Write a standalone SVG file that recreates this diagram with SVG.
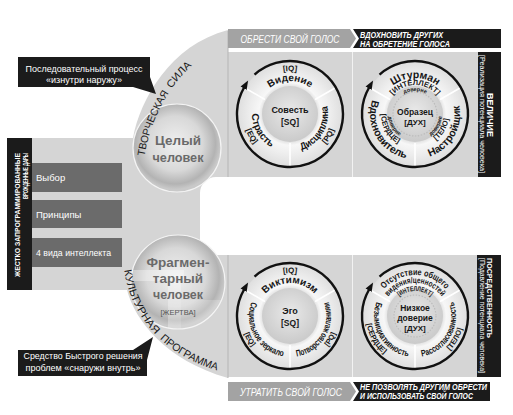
<svg xmlns="http://www.w3.org/2000/svg" width="513" height="415" viewBox="0 0 513 415">
<style>
text{font-family:'Liberation Sans Narrow','Liberation Sans',Arial,sans-serif}
.w{fill:#fff}
.k{fill:#161616}
.m{text-anchor:middle}
.sph{font-family:'Liberation Sans',Arial,sans-serif;font-weight:bold;fill:#6a6a6a;font-size:13.5px;text-anchor:middle}
.bi{font-style:italic;font-weight:bold;fill:#fff}
.lb{fill:#161616;text-anchor:middle;font-weight:bold}
.arc{font-size:10.5px;fill:#1a1a1a}
.box{fill:#6b6b6b}
.bar{fill:#1b1b1b}
.pan{fill:#d5d5d5}
</style>
<defs>
<radialGradient id="gBand" cx="50%" cy="50%" r="50%">
<stop offset="0.5" stop-color="#dadada"/>
<stop offset="0.6" stop-color="#f7f7f7"/>
<stop offset="0.78" stop-color="#ededed"/>
<stop offset="1" stop-color="#dfdfdf"/>
</radialGradient>
<radialGradient id="gCore" cx="50%" cy="45%" r="55%">
<stop offset="0" stop-color="#e9e9e9"/>
<stop offset="1" stop-color="#cacaca"/>
</radialGradient>
<radialGradient id="gSph" cx="48%" cy="45%" r="52%">
<stop offset="0" stop-color="#f0f0f0"/>
<stop offset="0.6" stop-color="#d8d8d8"/>
<stop offset="0.88" stop-color="#b3b3b3"/>
<stop offset="1" stop-color="#c9c9c9"/>
</radialGradient>
<clipPath id="cFrag"><circle cx="178" cy="282" r="47"/></clipPath>
<marker id="arr" markerWidth="10" markerHeight="10" refX="1" refY="5" orient="auto" markerUnits="userSpaceOnUse">
<path d="M0,1.5 L9,5 L0,8.5 Z" fill="#111"/>
</marker>
<g id="dial">
<circle r="52" fill="url(#gBand)"/>
<circle r="28" fill="url(#gCore)"/>
<g stroke="#fff" stroke-width="1.6">
<line x1="-25.1" y1="-14.5" x2="-45" y2="-26"/>
<line x1="25.1" y1="-14.5" x2="45" y2="-26"/>
<line x1="0" y1="29" x2="0" y2="52"/>
</g>
<path d="M-35.46,-39.38 A53 53 0 1 1 -45.9,-26.5" fill="none" stroke="#111" stroke-width="2.4" marker-end="url(#arr)"/>
</g>
<path id="t23" d="M-23,0 A23 23 0 0 1 23,0"/>
<path id="t25" d="M-25,0 A25 25 0 0 1 25,0"/>
<path id="t29" d="M-29,0 A29 29 0 0 1 29,0"/>
<path id="t33" d="M-33,0 A33 33 0 0 1 33,0"/>
<path id="t36" d="M-36,0 A36 36 0 0 1 36,0"/>
<path id="t41" d="M-41,0 A41 41 0 0 1 41,0"/>
<path id="t43" d="M-43,0 A43 43 0 0 1 43,0"/>
<path id="l27" d="M-17.36,-20.68 A27 27 0 0 0 9.23,25.37"/>
<path id="l34" d="M-21.86,-26.04 A34 34 0 0 0 11.63,31.95"/>
<path id="l38" d="M-24.43,-29.11 A38 38 0 0 0 13,35.71"/>
<path id="l41" d="M-26.35,-31.41 A41 41 0 0 0 14.02,38.53"/>
<path id="l45" d="M-28.93,-34.47 A45 45 0 0 0 15.39,42.29"/>
<path id="l47" d="M-30.21,-36 A47 47 0 0 0 16.07,44.17"/>
<path id="l49" d="M-31.5,-37.53 A49 49 0 0 0 16.76,46.05"/>
<path id="r27" d="M-9.23,25.37 A27 27 0 0 0 17.36,-20.68"/>
<path id="r34" d="M-11.63,31.95 A34 34 0 0 0 21.86,-26.04"/>
<path id="r38" d="M-13,35.71 A38 38 0 0 0 24.43,-29.11"/>
<path id="r41" d="M-14.02,38.53 A41 41 0 0 0 26.35,-31.41"/>
<path id="r45" d="M-15.39,42.29 A45 45 0 0 0 28.93,-34.47"/>
<path id="r47" d="M-16.07,44.17 A47 47 0 0 0 30.21,-36"/>
<path id="r49" d="M-16.76,46.05 A49 49 0 0 0 31.5,-37.53"/>
<path id="arcTop" d="M144,160 C150,115 178,62 228,44"/>
<path id="arcBot" d="M124,268 C130,318 166,358 226,373"/>
</defs>

<g id="frame">
<path d="M228,30 C170,45 140,100 133,138 H32 V290 H127 C135,320 165,360 228,378 Z" fill="#d5d5d5"/>
<rect class="pan" x="228" y="52" width="250" height="125"/>
<rect class="pan" x="228" y="255" width="250" height="122"/>
<path d="M216,177 H513 V255 H216 A16 16 0 0 1 200,239 V193 A16 16 0 0 1 216,177 Z" fill="#fff"/>
<g stroke-width="1">
<line x1="228" y1="31" x2="228" y2="177" stroke="#b5b5b5"/>
<line x1="228" y1="255" x2="228" y2="378" stroke="#b5b5b5"/>
<line x1="352.5" y1="52" x2="352.5" y2="177" stroke="#f2f2f2"/>
<line x1="352.5" y1="255" x2="352.5" y2="377" stroke="#f2f2f2"/>
</g>
</g>

<g id="gifts">
<rect class="bar" x="7" y="138" width="25" height="152"/>
<text class="w" font-size="7.5" font-weight="bold" text-anchor="end" transform="translate(19.5,153) rotate(-90)" textLength="124" lengthAdjust="spacingAndGlyphs">ЖЕСТКО ЗАПРОГРАММИРОВАННЫЕ</text>
<text class="w" font-size="7.5" font-weight="bold" text-anchor="end" transform="translate(28,153) rotate(-90)" textLength="46" lengthAdjust="spacingAndGlyphs">ВРОЖДЕННЫЕ ДАРЫ</text>
</g>
<g id="choice">
<rect class="box" x="32" y="163" width="90" height="29"/>
<text class="w" x="36" y="181" font-size="9.5">Выбор</text>
</g>
<g id="principles">
<rect class="box" x="32" y="200" width="90" height="28"/>
<text class="w" x="36" y="217.5" font-size="9.5">Принципы</text>
</g>
<g id="intellect4">
<rect class="box" x="32" y="238" width="90" height="29"/>
<text class="w" x="36" y="256" font-size="9.5" textLength="75" lengthAdjust="spacingAndGlyphs">4 вида интеллекта</text>
</g>

<g id="whole-person">
<circle cx="177" cy="148" r="44" fill="url(#gSph)" stroke="#f4f4f4" stroke-width="1.2"/>
<text class="sph" x="178" y="145" font-size="14">Целый</text>
<text class="sph" x="178" y="162" font-size="14" textLength="51" lengthAdjust="spacingAndGlyphs">человек</text>
</g>
<g id="creative-force">
<text class="arc"><textPath href="#arcTop" startOffset="4" textLength="68" lengthAdjust="spacingAndGlyphs">ТВОРЧЕСКАЯ</textPath></text>
<text class="arc"><textPath href="#arcTop" startOffset="77" textLength="31" lengthAdjust="spacingAndGlyphs">СИЛА</textPath></text>
</g>

<g id="fragmented-person">
<circle cx="178" cy="282" r="47" fill="url(#gSph)" stroke="#f4f4f4" stroke-width="1.2"/>
<g clip-path="url(#cFrag)" fill="#fff">
<rect x="128" y="270" width="56" height="11" opacity="0.35"/>
<rect x="168" y="282" width="13" height="50" opacity="0.3"/>
<rect x="181" y="300" width="50" height="35" opacity="0.2"/>
</g>
<text class="sph" x="178" y="267">Фрагмен-</text>
<text class="sph" x="178" y="283">тарный</text>
<text class="sph" x="178" y="299" textLength="50" lengthAdjust="spacingAndGlyphs">человек</text>
<text x="178" y="314.5" font-size="7.5" fill="#555" class="m">[ЖЕРТВА]</text>
</g>
<g id="cultural-program">
<text class="arc"><textPath href="#arcBot" startOffset="2" textLength="73" lengthAdjust="spacingAndGlyphs">КУЛЬТУРНАЯ</textPath></text>
<text class="arc"><textPath href="#arcBot" startOffset="81" textLength="66" lengthAdjust="spacingAndGlyphs">ПРОГРАММА</textPath></text>
</g>

<g id="dial-conscience" transform="translate(290,114)">
<use href="#dial"/>
<text class="lb" font-size="8"><textPath href="#t43" startOffset="50%">[IQ]</textPath></text>
<text class="lb" font-size="10"><textPath href="#t33" startOffset="50%">Видение</textPath></text>
<text class="lb" font-size="9" font-weight="normal" y="-1">Совесть</text>
<text class="lb" font-size="8.5" font-weight="normal" y="11">[SQ]</text>
<text class="lb" font-size="10"><textPath href="#l38" startOffset="50%">Страсть</textPath></text>
<text class="lb" font-size="8" font-weight="normal"><textPath href="#l47" startOffset="50%">[EQ]</textPath></text>
<text class="lb" font-size="10"><textPath href="#r38" startOffset="50%" textLength="56" lengthAdjust="spacingAndGlyphs">Дисциплина</textPath></text>
<text class="lb" font-size="8" font-weight="normal"><textPath href="#r47" startOffset="50%">[PQ]</textPath></text>
</g>

<g id="dial-model" transform="translate(415,114)">
<use href="#dial"/>
<circle r="22" fill="none" stroke="#bcbcbc" stroke-width="1.2" stroke-dasharray="1.5 1.5"/>
<text class="lb" font-size="10.5"><textPath href="#t36" startOffset="50%">Штурман</textPath></text>
<text class="lb" font-size="7.5" font-weight="normal"><textPath href="#t29" startOffset="50%">[ИНТЕЛЛЕКТ]</textPath></text>
<text class="lb" font-size="5.5"><textPath href="#t23" startOffset="50%">доверие</textPath></text>
<text class="lb" font-size="8.5" font-weight="normal" y="1">Образец</text>
<text class="lb" font-size="8" font-weight="normal" y="11">[ДУХ]</text>
<text class="lb" font-size="10.5"><textPath href="#l45" startOffset="50%">Вдохновитель</textPath></text>
<text class="lb" font-size="7.5" font-weight="normal"><textPath href="#l34" startOffset="50%">[СЕРДЦЕ]</textPath></text>
<text class="lb" font-size="5.5"><textPath href="#l27" startOffset="50%">доверие</textPath></text>
<text class="lb" font-size="10.5"><textPath href="#r45" startOffset="50%">Настройщик</textPath></text>
<text class="lb" font-size="7.5" font-weight="normal"><textPath href="#r34" startOffset="50%">[ТЕЛО]</textPath></text>
<text class="lb" font-size="5.5"><textPath href="#r27" startOffset="50%">доверие</textPath></text>
</g>

<g id="greatness">
<rect class="bar" x="478" y="52" width="23" height="125"/>
<text class="w m" font-size="8.5" font-weight="bold" transform="translate(487,115) rotate(90)" textLength="44" lengthAdjust="spacingAndGlyphs">ВЕЛИЧИЕ</text>
<text class="w m" font-size="6.5" transform="translate(480,114) rotate(90)" textLength="118" lengthAdjust="spacingAndGlyphs">[Реализация потенциала человека]</text>
</g>

<g id="dial-ego" transform="translate(290,316)">
<use href="#dial"/>
<text class="lb" font-size="8"><textPath href="#t43" startOffset="50%">[IQ]</textPath></text>
<text class="lb" font-size="10"><textPath href="#t33" startOffset="50%">Виктимизм</textPath></text>
<text class="lb" font-size="9" font-weight="normal" y="-2">Эго</text>
<text class="lb" font-size="8.5" font-weight="normal" y="10">[SQ]</text>
<text class="lb" font-size="9"><textPath href="#l41" startOffset="50%" textLength="72" lengthAdjust="spacingAndGlyphs">Социальное зеркало</textPath></text>
<text class="lb" font-size="7.5" font-weight="normal"><textPath href="#l49" startOffset="50%">[EQ]</textPath></text>
<text class="lb" font-size="9"><textPath href="#r41" startOffset="50%" textLength="72" lengthAdjust="spacingAndGlyphs">Потворство желаниям</textPath></text>
<text class="lb" font-size="7.5" font-weight="normal"><textPath href="#r49" startOffset="50%">[PQ]</textPath></text>
</g>

<g id="dial-lowtrust" transform="translate(415,316)">
<use href="#dial"/>
<circle r="21" fill="none" stroke="#bcbcbc" stroke-width="1.2" stroke-dasharray="1.5 1.5"/>
<text class="lb" font-size="9"><textPath href="#t41" startOffset="50%" textLength="70" lengthAdjust="spacingAndGlyphs">Отсутствие общего</textPath></text>
<text class="lb" font-size="8.5"><textPath href="#t33" startOffset="50%" textLength="62" lengthAdjust="spacingAndGlyphs">видения/ценностей</textPath></text>
<text class="lb" font-size="7" font-weight="normal"><textPath href="#t25" startOffset="50%" textLength="34" lengthAdjust="spacingAndGlyphs">[ИНТЕЛЛЕКТ]</textPath></text>
<text class="lb" font-size="8.5" font-weight="normal" y="-5">Низкое</text>
<text class="lb" font-size="8.5" font-weight="normal" y="5">доверие</text>
<text class="lb" font-size="8" font-weight="normal" y="15">[ДУХ]</text>
<text class="lb" font-size="9"><textPath href="#l41" startOffset="50%" textLength="72" lengthAdjust="spacingAndGlyphs">Безынициативность</textPath></text>
<text class="lb" font-size="7.5" font-weight="normal"><textPath href="#l49" startOffset="50%">[СЕРДЦЕ]</textPath></text>
<text class="lb" font-size="9"><textPath href="#r41" startOffset="50%" textLength="72" lengthAdjust="spacingAndGlyphs">Рассогласованность</textPath></text>
<text class="lb" font-size="7.5" font-weight="normal"><textPath href="#r49" startOffset="50%">[ТЕЛО]</textPath></text>
</g>

<g id="mediocrity">
<rect class="bar" x="477" y="255" width="24" height="122"/>
<text class="w" font-size="8" font-weight="bold" transform="translate(487,258) rotate(90)" textLength="80" lengthAdjust="spacingAndGlyphs">ПОСРЕДСТВЕННОСТЬ</text>
<text class="w m" font-size="6.5" transform="translate(480,315.5) rotate(90)" textLength="115" lengthAdjust="spacingAndGlyphs">[Подавление потенциала человека]</text>
</g>

<g id="find-voice">
<path d="M228,29 H350 L356,38.5 L350,48 H228 Z" fill="#a3a3a3"/>
<text class="w m" x="290" y="42.5" font-size="10.5" font-style="italic" textLength="99" lengthAdjust="spacingAndGlyphs">ОБРЕСТИ СВОЙ ГОЛОС</text>
</g>
<g id="inspire-others">
<path d="M353,29 H501 V48 H353 L359,38.5 Z" class="bar"/>
<text class="bi" x="360" y="37.5" font-size="8.5" textLength="83" lengthAdjust="spacingAndGlyphs">ВДОХНОВИТЬ ДРУГИХ</text>
<text class="bi" x="360" y="46.5" font-size="8.5" textLength="90" lengthAdjust="spacingAndGlyphs">НА ОБРЕТЕНИЕ ГОЛОСА</text>
</g>
<g id="lose-voice">
<path d="M228,382 H350 L356,391.5 L350,401 H228 Z" fill="#a3a3a3"/>
<text class="w m" x="291" y="395.5" font-size="10.5" font-style="italic" textLength="102" lengthAdjust="spacingAndGlyphs">УТРАТИТЬ СВОЙ ГОЛОС</text>
</g>
<g id="suppress-others">
<path d="M353,382 H490 V401 H353 L359,391.5 Z" class="bar"/>
<text class="bi" x="360" y="390" font-size="8.5" textLength="127" lengthAdjust="spacingAndGlyphs">НЕ ПОЗВОЛЯТЬ ДРУГИМ ОБРЕСТИ</text>
<text class="bi" x="360" y="399" font-size="8.5" textLength="113" lengthAdjust="spacingAndGlyphs">И ИСПОЛЬЗОВАТЬ СВОЙ ГОЛОС</text>
</g>

<g id="callout-inside-out">
<path d="M18,57 H150 V77 L156,94 L133,87 H18 Z" class="bar"/>
<text class="w m" x="84" y="71.5" font-size="9.5" textLength="117" lengthAdjust="spacingAndGlyphs">Последовательный процесс</text>
<text class="w m" x="84" y="83" font-size="9.5" textLength="76" lengthAdjust="spacingAndGlyphs">«изнутри наружу»</text>
</g>
<g id="callout-outside-in">
<path d="M18,350 H133 L153,337 L147,360 V376 H18 Z" class="bar"/>
<text class="w m" x="83" y="358.5" font-size="9.5" textLength="119" lengthAdjust="spacingAndGlyphs">Средство Быстрого решения</text>
<text class="w m" x="83" y="371" font-size="9.5" textLength="115" lengthAdjust="spacingAndGlyphs">проблем «снаружи внутрь»</text>
</g>
</svg>
